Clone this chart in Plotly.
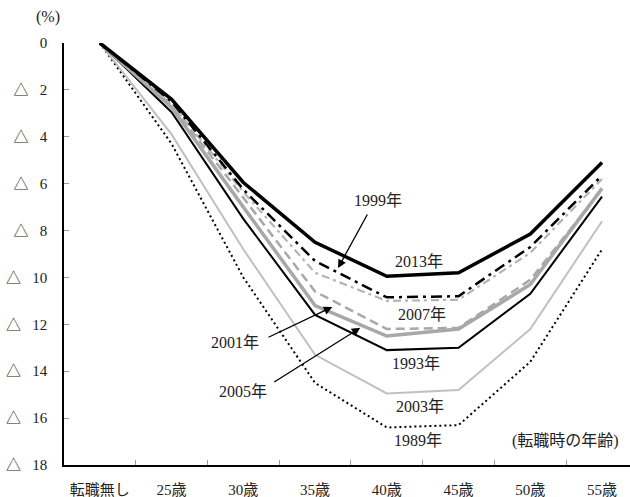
import plotly.graph_objects as go

categories = ["転職無し", "25歳", "30歳", "35歳", "40歳", "45歳", "50歳", "55歳"]

y2013 = [0, 2.4, 5.95, 8.5, 9.95, 9.8, 8.15, 5.1]
y1999 = [0, 2.5, 6.25, 9.3, 10.85, 10.8, 8.7, 5.65]
y2007 = [0, 2.6, 6.35, 9.8, 11.0, 10.95, 8.95, 5.8]
y2005 = [0, 2.65, 6.6, 10.6, 12.2, 12.15, 10.1, 6.25]
y2001 = [0, 2.75, 7.0, 11.2, 12.5, 12.2, 10.3, 6.2]
y1993 = [0, 2.95, 7.5, 11.6, 13.1, 13.0, 10.7, 6.55]
y2003 = [0, 3.9, 8.8, 13.3, 14.95, 14.8, 12.2, 7.6]
y1989 = [0, 4.3, 10.0, 14.5, 16.4, 16.3, 13.6, 8.8]

ytick_vals = [0, 2, 4, 6, 8, 10, 12, 14, 16, 18]
ytick_text = ["0", "△\u2002 2", "△\u2002 4", "△\u2002 6", "△\u2002 8", "△\u2002 10",
              "△\u2002 12", "△\u2002 14", "△\u2002 16", "△\u2002 18"]

FONT = "Liberation Serif, Noto Sans CJK JP, serif"
TXT = "#222"

series = [
    ("1989年", y1989, "black", 2, "2px,3px"),
    ("2003年", y2003, "#c0c0c0", 2, "solid"),
    ("1993年", y1993, "black", 2, "solid"),
    ("2001年", y2001, "#a8a8a8", 3.5, "solid"),
    ("2005年", y2005, "#a8a8a8", 2.5, "9px,5px"),
    ("2007年", y2007, "#b4b4b4", 2.2, "8px,4px,3px,4px"),
    ("1999年", y1999, "black", 2.5, "11px,5px,3px,5px"),
    ("2013年", y2013, "black", 3.5, "solid"),
]

fig = go.Figure()
for name, ys, color, width, dash in series:
    fig.add_trace(go.Scatter(
        x=categories, y=ys, mode="lines", name=name,
        line=dict(color=color, width=width, dash=dash),
        showlegend=False, hoverinfo="skip",
    ))

labels = [
    ("1999年", 3.88, 6.7),
    ("2013年", 4.45, 9.34),
    ("2007年", 4.49, 11.56),
    ("1993年", 4.41, 13.69),
    ("2003年", 4.46, 15.52),
    ("1989年", 4.44, 16.97),
    ("(転職時の年齢)", 6.49, 16.97),
    ("2001年", 1.88, 12.79),
    ("2005年", 1.99, 14.88),
]
for text, x, y in labels:
    fig.add_annotation(x=x, y=y, text=text, showarrow=False,
                       xanchor="center", yanchor="middle",
                       font=dict(family=FONT, size=16, color=TXT),
                       xref="x", yref="y")

arrows = [
    ((3.74, 7.25), (3.32, 9.6)),
    ((2.33, 12.58), (3.24, 11.26)),
    ((2.41, 14.5), (3.63, 12.15)),
]
for (ax, ay), (x, y) in arrows:
    fig.add_annotation(x=x, y=y, ax=ax, ay=ay, xref="x", yref="y",
                       axref="x", ayref="y", text="", showarrow=True,
                       arrowhead=2, arrowsize=1.3, arrowwidth=1.3,
                       arrowcolor="black", standoff=0, startstandoff=0)

fig.add_annotation(x=-0.028, y=1.062, xref="paper", yref="paper", text="(%)",
                   xanchor="center", yanchor="middle",
                   showarrow=False, font=dict(family=FONT, size=16, color=TXT))

fig.update_layout(
    width=630, height=497,
    margin=dict(l=64, r=0, t=43, b=32, autoexpand=False),
    paper_bgcolor="white", plot_bgcolor="white",
    font=dict(family=FONT, size=16, color=TXT),
)
fig.update_xaxes(
    type="category", range=[-0.5, 7.39],
    showline=True, linecolor="black", linewidth=1.5,
    ticks="inside", ticklen=5, tickcolor="#999", tickwidth=1,
    tickson="boundaries", showgrid=False, zeroline=False,
    ticklabelstandoff=10, tickangle=0, automargin=False,
    tickfont=dict(family=FONT, size=15, color=TXT),
)
fig.update_yaxes(
    range=[18, 0], autorange=False,
    tickvals=ytick_vals, ticktext=ytick_text,
    showline=True, linecolor="black", linewidth=1.5,
    ticks="inside", ticklen=5, tickcolor="#999", tickwidth=1,
    showgrid=False, zeroline=False, automargin=False,
    ticklabelstandoff=12,
    tickfont=dict(family=FONT, size=15, color=TXT),
)

fig.write_html("out.html", config={"displayModeBar": False},
               post_script="document.body.style.margin='0px';")
